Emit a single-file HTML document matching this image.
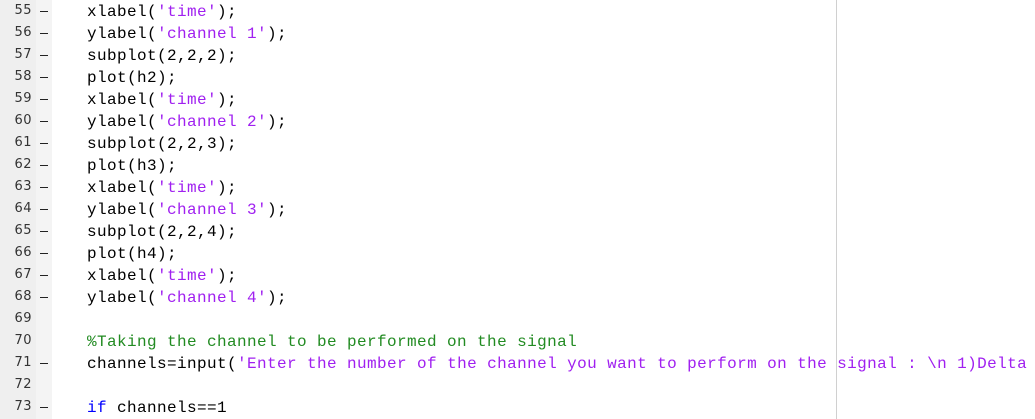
<!DOCTYPE html><html><head><style>
body{margin:0;width:1035px;height:419px;background:#fff;overflow:hidden;position:relative;font-family:"Liberation Mono",monospace}
.g1{position:absolute;left:0;top:0;width:36px;height:419px;background:#efefef}
.g2{position:absolute;left:36px;top:0;width:16px;height:419px;background:#f4f4f4}
.vl{position:absolute;left:836px;top:0;width:1px;height:419px;background:#d0d0d0}
.r{position:absolute;left:0;height:22px;width:1035px}
.n{position:absolute;right:1003px;top:3px;font:13px "DejaVu Sans",sans-serif;color:#333;letter-spacing:0.5px}
.d{position:absolute;left:40px;top:11px;width:8px;height:1px;background:#222}
.c{position:absolute;left:87px;top:2px;font-size:16px;letter-spacing:0.4px;white-space:pre;color:#000;line-height:20px}
.s{color:#a020f0}.k{color:#0000ff}.m{color:#228b22}
</style></head><body>
<div class="g1"></div><div class="g2"></div><div class="vl"></div>
<div class="r" style="top:0"><span class="n">55</span><i class="d"></i><span class="c">xlabel(<span class="s">'time'</span>);</span></div>
<div class="r" style="top:22px"><span class="n">56</span><i class="d"></i><span class="c">ylabel(<span class="s">'channel 1'</span>);</span></div>
<div class="r" style="top:44px"><span class="n">57</span><i class="d"></i><span class="c">subplot(2,2,2);</span></div>
<div class="r" style="top:66px"><span class="n">58</span><i class="d"></i><span class="c">plot(h2);</span></div>
<div class="r" style="top:88px"><span class="n">59</span><i class="d"></i><span class="c">xlabel(<span class="s">'time'</span>);</span></div>
<div class="r" style="top:110px"><span class="n">60</span><i class="d"></i><span class="c">ylabel(<span class="s">'channel 2'</span>);</span></div>
<div class="r" style="top:132px"><span class="n">61</span><i class="d"></i><span class="c">subplot(2,2,3);</span></div>
<div class="r" style="top:154px"><span class="n">62</span><i class="d"></i><span class="c">plot(h3);</span></div>
<div class="r" style="top:176px"><span class="n">63</span><i class="d"></i><span class="c">xlabel(<span class="s">'time'</span>);</span></div>
<div class="r" style="top:198px"><span class="n">64</span><i class="d"></i><span class="c">ylabel(<span class="s">'channel 3'</span>);</span></div>
<div class="r" style="top:220px"><span class="n">65</span><i class="d"></i><span class="c">subplot(2,2,4);</span></div>
<div class="r" style="top:242px"><span class="n">66</span><i class="d"></i><span class="c">plot(h4);</span></div>
<div class="r" style="top:264px"><span class="n">67</span><i class="d"></i><span class="c">xlabel(<span class="s">'time'</span>);</span></div>
<div class="r" style="top:286px"><span class="n">68</span><i class="d"></i><span class="c">ylabel(<span class="s">'channel 4'</span>);</span></div>
<div class="r" style="top:308px"><span class="n">69</span></div>
<div class="r" style="top:330px"><span class="n">70</span><span class="c m">%Taking the channel to be performed on the signal</span></div>
<div class="r" style="top:352px"><span class="n">71</span><i class="d"></i><span class="c">channels=input(<span class="s">'Enter the number of the channel you want to perform on the signal : \n 1)Delta</span></span></div>
<div class="r" style="top:374px"><span class="n">72</span></div>
<div class="r" style="top:396px"><span class="n">73</span><i class="d"></i><span class="c"><span class="k">if</span> channels==1</span></div>
</body></html>
